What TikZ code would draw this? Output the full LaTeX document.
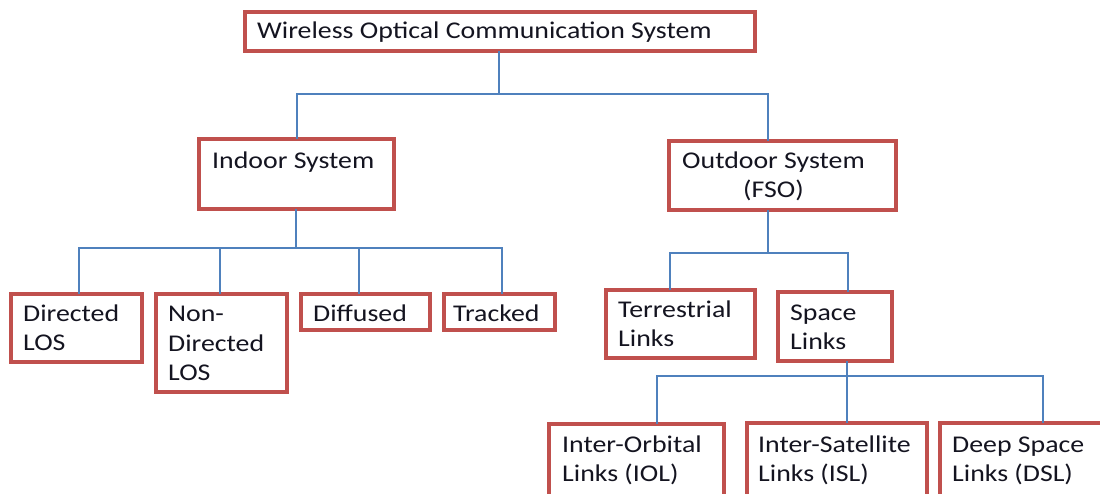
\documentclass[tikz,border=0pt]{standalone}
\usepackage{fontspec}
\setmainfont{Carlito}[FakeStretch=1.16]
\definecolor{boxred}{HTML}{C0504D}
\definecolor{linkblue}{HTML}{4F81BD}
\definecolor{txtc}{HTML}{141420}
\begin{document}
\begin{tikzpicture}[x=1pt,y=-1pt,
  box/.style={draw=boxred, line width=4pt, fill=white, rectangle, inner sep=0pt, outer sep=0pt},
  txt/.style={anchor=north west, inner sep=0pt, align=left, text=txtc, font=\fontsize{24}{29.5}\selectfont},
  conn/.style={draw=linkblue, line width=1.4pt}]
\useasboundingbox (0,0) rectangle (1100,493);
\fill[white] (0,0) rectangle (1100,493);
% boxes
\newcommand\bx[5]{\node[box, minimum width={#4-#2}, minimum height={#5-#3}] (#1) at ({(#2+#4)/2},{(#3+#5)/2}) {};}
\bx{root}{245}{12}{755}{51}
\bx{indoor}{199}{139}{394}{209}
\bx{outdoor}{669}{141}{896}{210}
\bx{dlos}{11}{294}{142}{362}
\bx{ndlos}{156}{294}{287}{392}
\bx{diff}{301}{294}{430}{330}
\bx{track}{444}{294}{555}{330}
\bx{terr}{606}{290}{755}{358}
\bx{space}{778}{292}{892}{361}
\bx{iol}{549}{424}{724}{500}
\bx{isl}{747}{423}{927}{500}
\bx{dsl}{940}{423}{1110}{500}
% texts
\node[txt] (troot) at (257,21.5) {Wireless Optical Communication System};
\node[txt] (tindoor) at (212,151.5) {Indoor System};
\node[txt, align=center] (toutdoor) at (682,151.5) {Outdoor System\\(FSO)};
\node[txt] (tdlos) at (23,304.5) {Directed\\LOS};
\node[txt] (tndlos) at (168,306) {Non-\\Directed\\LOS};
\node[txt] (tdiff) at (313,304.5) {Diffused};
\node[txt] (ttrack) at (453,304.5) {Tracked};
\node[txt] (tterr) at (618,300.5) {Terrestrial\\Links};
\node[txt] (tspace) at (790,304.5) {Space\\Links};
\node[txt] (tiol) at (562,435.5) {Inter-Orbital\\Links (IOL)};
\node[txt] (tisl) at (758,435.5) {Inter-Satellite\\Links (ISL)};
\node[txt] (tdsl) at (952,436.5) {Deep Space\\Links (DSL)};
% junction coordinates
\coordinate (j1) at (499,94);
\coordinate (j1r) at (768,94);
\coordinate (j2) at (296,248);
\coordinate (j2a) at (79,248);
\coordinate (j2b) at (220,248);
\coordinate (j2c) at (359,248);
\coordinate (j2d) at (502,248);
\coordinate (j3) at (768,253);
\coordinate (j3a) at (670,253);
\coordinate (j3b) at (848,253);
\coordinate (j4) at (847,376);
\coordinate (j4a) at (657,376);
\coordinate (j4c) at (1043,376);
% connectors
\draw[conn] (root.south -| j1) -- (j1);
\draw[conn] (indoor.north -| 297,0) |- (j1r) -- (j1r |- outdoor.north);
\draw[conn] (indoor.south -| j2) -- (j2);
\draw[conn] (j2a |- dlos.north) -- (j2a) -- (j2d) -- (j2d |- track.north);
\draw[conn] (j2b) -- (j2b |- ndlos.north);
\draw[conn] (j2c) -- (j2c |- diff.north);
\draw[conn] (j3 |- outdoor.south) -- (j3);
\draw[conn] (j3a |- terr.north) -- (j3a) -- (j3b) -- (j3b |- space.north);
\draw[conn] (j4 |- space.south) -- (j4);
\draw[conn] (j4a |- iol.north) -- (j4a) -- (j4c) -- (j4c |- dsl.north);
\draw[conn] (j4) -- (j4 |- isl.north);
\end{tikzpicture}
\end{document}
